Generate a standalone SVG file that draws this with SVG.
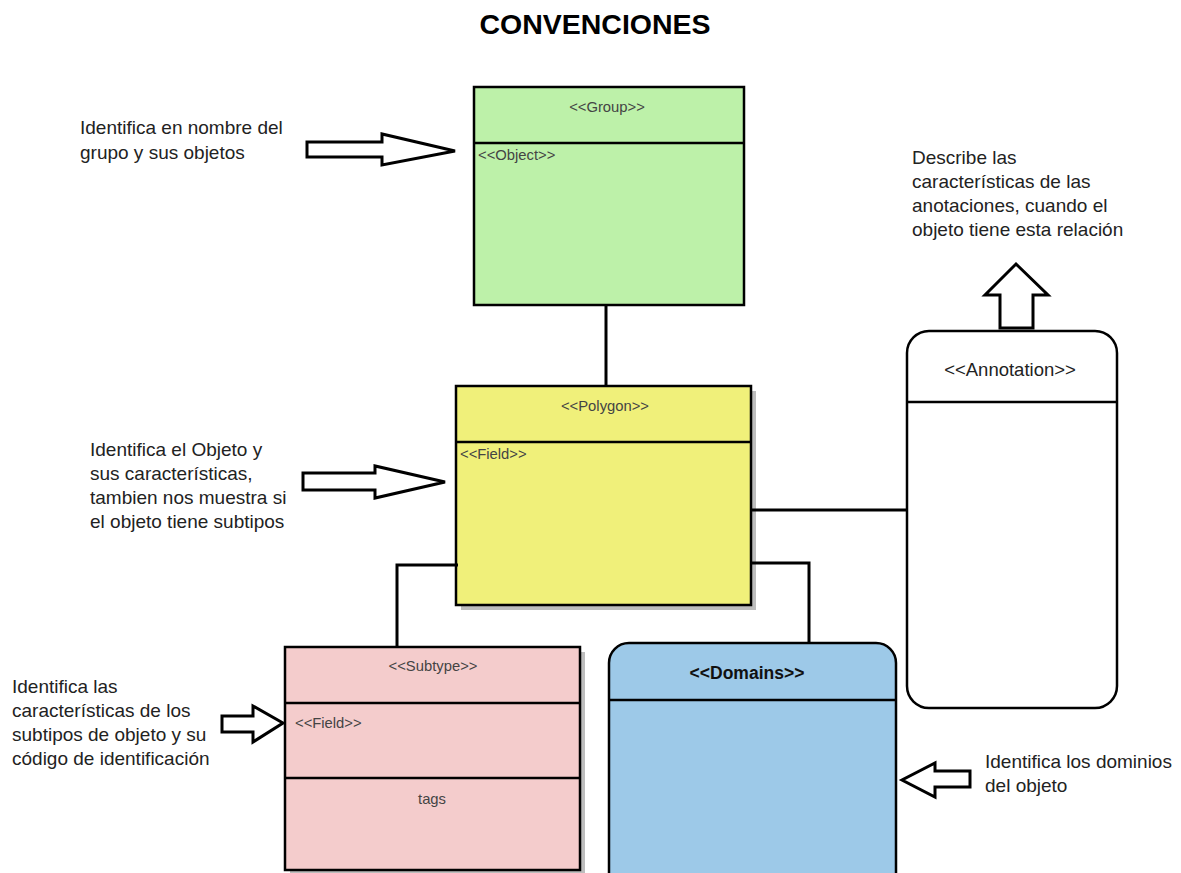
<svg xmlns="http://www.w3.org/2000/svg" width="1181" height="873" viewBox="0 0 1181 873">
<style>
.box{stroke:#000;stroke-width:2.5}
.div{stroke:#000;stroke-width:2.5}
.lbl{font-family:"Liberation Sans",Arial,sans-serif;font-size:14.8px;fill:#444}
.desc{font-family:"Liberation Sans",Arial,sans-serif;font-size:19px;fill:#222}
.conn{fill:none;stroke:#000;stroke-width:3}
.harrow{fill:#fff;stroke:#000;stroke-width:3;stroke-linejoin:miter}
.shadow{fill:#bdbdbd}
</style>
<rect width="1181" height="873" fill="#fff"/>
<text x="595" y="34" text-anchor="middle" font-family="Liberation Sans,Arial,sans-serif" font-size="28.5" font-weight="bold" fill="#000">CONVENCIONES</text>

<g id="group">
<rect class="box" x="474" y="87" width="270" height="218" fill="#bdf1a9"/>
<line class="div" x1="474" y1="143" x2="744" y2="143"/>
<text class="lbl" x="607" y="112" text-anchor="middle">&lt;&lt;Group&gt;&gt;</text>
<text class="lbl" x="478" y="160">&lt;&lt;Object&gt;&gt;</text>
</g>

<g id="polygon">
<rect class="shadow" x="461" y="391" width="295" height="219"/>
<rect class="box" x="456" y="386" width="295" height="219" fill="#f0f07a"/>
<line class="div" x1="456" y1="442" x2="751" y2="442"/>
<text class="lbl" x="605" y="411" text-anchor="middle">&lt;&lt;Polygon&gt;&gt;</text>
<text class="lbl" x="460" y="459">&lt;&lt;Field&gt;&gt;</text>
</g>

<g id="subtype">
<rect class="shadow" x="290" y="652" width="295" height="221"/>
<rect class="box" x="285" y="647" width="295" height="223" fill="#f4cccc"/>
<line class="div" x1="285" y1="703" x2="580" y2="703"/>
<line class="div" x1="285" y1="778" x2="580" y2="778"/>
<text class="lbl" x="433" y="671" text-anchor="middle">&lt;&lt;Subtype&gt;&gt;</text>
<text class="lbl" x="295" y="728">&lt;&lt;Field&gt;&gt;</text>
<text class="lbl" x="432" y="804" text-anchor="middle" font-size="17">tags</text>
</g>

<g id="domains">
<rect class="box" x="609" y="643" width="287" height="250" rx="20" ry="20" fill="#9dc9e8" stroke-width="3"/>
<line class="div" x1="609" y1="700" x2="896" y2="700" stroke-width="3"/>
<text x="747" y="679" text-anchor="middle" font-family="Liberation Sans,Arial,sans-serif" font-size="17.5" font-weight="bold" fill="#111">&lt;&lt;Domains&gt;&gt;</text>
</g>

<g id="annotation">
<rect class="box" x="907" y="331" width="210" height="377" rx="22" ry="22" fill="#fff" stroke-width="3"/>
<line class="div" x1="907" y1="402" x2="1117" y2="402" stroke-width="3"/>
<text x="1010" y="376" text-anchor="middle" font-family="Liberation Sans,Arial,sans-serif" font-size="18.5" fill="#222">&lt;&lt;Annotation&gt;&gt;</text>
</g>

<g id="connectors">
<path class="conn" d="M606 305 V386"/>
<path class="conn" d="M458 565 H397 V647"/>
<path class="conn" d="M751 563 H809 V642"/>
<path class="conn" d="M751 510 H907"/>
</g>

<g id="arrows">
<polygon class="harrow" points="307,142 382,142 382,134 455,151 382,165 382,157 307,157"/>
<polygon class="harrow" points="303,473 375,473 375,466 445,482 375,498 375,490 303,490"/>
<polygon class="harrow" points="222,716 253,716 253,706 283,723 253,742 253,732 222,732"/>
<polygon class="harrow" points="970,771 935,771 935,763 902,780 935,797 935,787 970,787"/>
<polygon class="harrow" points="1000,328 1000,295 985,295 1016,264 1048,295 1033,295 1033,328"/>
</g>

<g id="notes">
<text class="desc" x="80" y="134">Identifica en nombre del</text>
<text class="desc" x="80" y="159">grupo y sus objetos</text>
<text class="desc" x="90" y="456">Identifica el Objeto y</text>
<text class="desc" x="90" y="480">sus características,</text>
<text class="desc" x="90" y="504">tambien nos muestra si</text>
<text class="desc" x="90" y="528">el objeto tiene subtipos</text>
<text class="desc" x="12" y="693">Identifica las</text>
<text class="desc" x="12" y="717">características de los</text>
<text class="desc" x="12" y="741">subtipos de objeto y su</text>
<text class="desc" x="12" y="765">código de identificación</text>
<text class="desc" x="912" y="164">Describe las</text>
<text class="desc" x="912" y="188">características de las</text>
<text class="desc" x="912" y="212">anotaciones, cuando el</text>
<text class="desc" x="912" y="236">objeto tiene esta relación</text>
<text class="desc" x="985" y="768">Identifica los dominios</text>
<text class="desc" x="985" y="792">del objeto</text>
</g>
</svg>
